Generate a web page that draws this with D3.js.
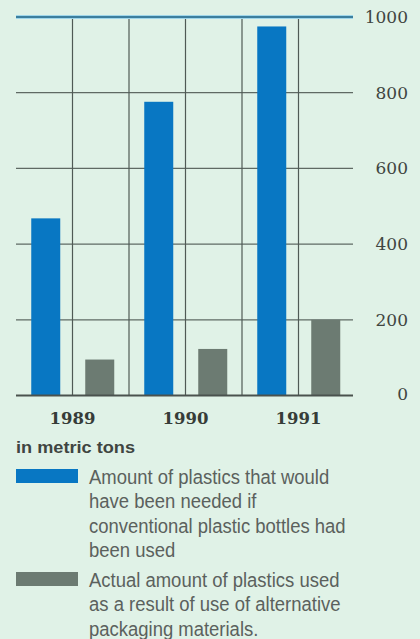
<!DOCTYPE html>
<html>
<head>
<meta charset="utf-8">
<script src="https://cdn.jsdelivr.net/npm/d3@7"></script>
<style>
  html, body { margin: 0; padding: 0; background: #e0f2e7; }
  svg { display: block; }
</style>
</head>
<body>
<svg id="chart" width="420" height="639"></svg>
<script>
const years = ["1989", "1990", "1991"];
const series = ["needed", "actual"];
const neededValues = [468, 776, 975];
const actualValues = [95, 123, 200];
const yTicks = [0, 200, 400, 600, 800, 1000];
const unitLabel = "in metric tons";
const legendLines = [
  ["Amount of plastics that would", "have been needed if", "conventional plastic bottles had", "been used"],
  ["Actual amount of plastics used", "as a result of use of alternative", "packaging materials."]
];
const colors = { needed: "#0877c3", actual: "#6c7b72" };

(function () {
const svg = d3.select("#chart");
const W = 420, H = 639;
svg.append("rect").attr("width", W).attr("height", H).attr("fill", "#e0f2e7");

const pLeft = 16, pRight = 355, pTop = 17, pBottom = 395.5, lineEnd = 353;
const x = d3.scaleBand().domain(years).range([pLeft, pRight]).paddingInner(0).paddingOuter(0);
const xs = d3.scaleBand().domain(series).range([0, x.bandwidth()]).paddingInner(0).paddingOuter(0);
const y = d3.scaleLinear().domain([0, 1000]).range([pBottom, pTop]);

// horizontal gridlines (inner)
svg.append("g").selectAll("line").data(yTicks.filter(t => t > 0 && t < 1000)).join("line")
  .attr("x1", pLeft).attr("x2", lineEnd)
  .attr("y1", d => y(d)).attr("y2", d => y(d))
  .attr("stroke", "#5f6a64").attr("stroke-width", 1.2);

// vertical gridlines at slot boundaries
const boundaries = [];
years.forEach((yr, i) => {
  if (i > 0) boundaries.push(x(yr));
  boundaries.push(x(yr) + xs("actual"));
});
svg.append("g").selectAll("line").data(boundaries).join("line")
  .attr("x1", d => d).attr("x2", d => d)
  .attr("y1", y(1000)).attr("y2", y(0))
  .attr("stroke", "#4f5a55").attr("stroke-width", 1.2);

// bars
const barW = 29;
const data = [];
years.forEach((yr, i) => {
  data.push({ year: yr, s: "needed", v: neededValues[i] });
  data.push({ year: yr, s: "actual", v: actualValues[i] });
});
const shift = { needed: 1.5, actual: -1 };
svg.append("g").selectAll("rect").data(data).join("rect")
  .attr("x", d => x(d.year) + xs(d.s) + (xs.bandwidth() - barW) / 2 + shift[d.s])
  .attr("width", barW)
  .attr("y", d => y(d.v))
  .attr("height", d => y(0) - y(d.v))
  .attr("fill", d => colors[d.s]);

// top (1000) line
svg.append("line").attr("x1", pLeft).attr("x2", lineEnd)
  .attr("y1", y(1000)).attr("y2", y(1000))
  .attr("stroke", "#9fd6ea").attr("stroke-width", 4);
svg.append("line").attr("x1", pLeft).attr("x2", lineEnd)
  .attr("y1", y(1000)).attr("y2", y(1000))
  .attr("stroke", "#3c7f9e").attr("stroke-width", 1.8);

// baseline
svg.append("line").attr("x1", pLeft).attr("x2", lineEnd)
  .attr("y1", y(0)).attr("y2", y(0))
  .attr("stroke", "#4a524e").attr("stroke-width", 2);

// y axis labels on the right
svg.append("g").selectAll("text").data(yTicks).join("text")
  .attr("x", 408)
  .attr("y", d => y(d) + (d === 0 ? 4 : 6))
  .attr("text-anchor", "end")
  .attr("font-family", "DejaVu Serif")
  .attr("font-size", 17)
  .attr("fill", "#3f4541")
  .text(d => d);

// year labels
svg.append("g").selectAll("text").data(years).join("text")
  .attr("x", d => x(d) + x.bandwidth() / 2)
  .attr("y", 424)
  .attr("text-anchor", "middle")
  .attr("font-family", "DejaVu Serif")
  .attr("font-weight", "bold")
  .attr("font-size", 16.5)
  .attr("fill", "#363c38")
  .text(d => d);

// unit label
svg.append("text")
  .attr("x", 16).attr("y", 453)
  .attr("font-family", "Liberation Sans")
  .attr("font-weight", "bold")
  .attr("font-size", 16.5)
  .attr("textLength", 119).attr("lengthAdjust", "spacingAndGlyphs")
  .attr("fill", "#3f4541")
  .text(unitLabel);

// legend
const swatchY = [469, 572];
const lineStart = [484, 587];
const lineGap = 24.3;
series.forEach((s, i) => {
  svg.append("rect")
    .attr("x", 16).attr("y", swatchY[i])
    .attr("width", 62).attr("height", 14)
    .attr("fill", colors[s]);
  const t = svg.append("text")
    .attr("font-family", "Liberation Sans")
    .attr("font-size", 21)
    .attr("fill", "#5b615d")
    .attr("transform", "translate(89,0) scale(0.88,1) translate(-89,0)");
  legendLines[i].forEach((ln, j) => {
    t.append("tspan")
      .attr("x", 89)
      .attr("y", lineStart[i] + j * lineGap)
      .text(ln);
  });
});
})();
</script>
</body>
</html>
